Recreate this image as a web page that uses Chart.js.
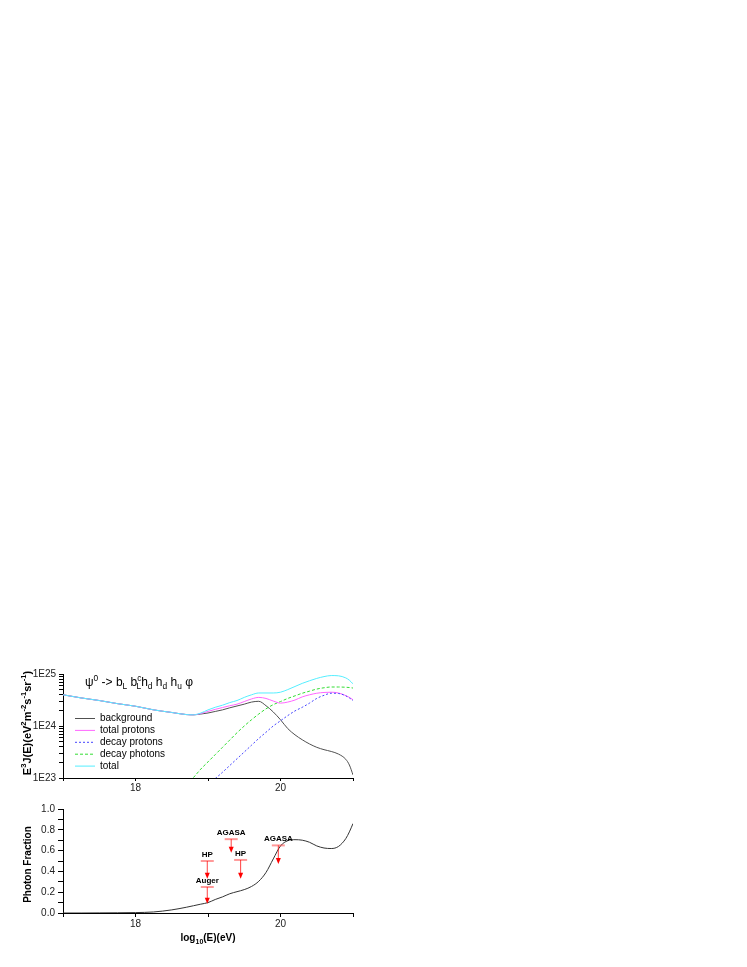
<!DOCTYPE html>
<html>
<head>
<meta charset="utf-8">
<script src="https://cdn.jsdelivr.net/npm/chart.js@4"></script>
<style>
  body { margin: 0; background: #fff; font-family: "Liberation Sans", Arial, sans-serif; }
  #wrap { position: relative; width: 747px; height: 967px; }
  canvas { position: absolute; left: 0; }
  .txt { position: absolute; white-space: nowrap; color: #000; }
  .rot { transform: rotate(-90deg); text-align: center; font-weight: bold; }
  sup, sub { font-size: 70%; line-height: 0; }
</style>
</head>
<body>
<div id="wrap">
  <canvas id="topChart" width="380" height="160" style="top:640px"></canvas>
  <canvas id="botChart" width="380" height="135" style="top:800px"></canvas>

  <div class="txt" style="left:85px;top:675px;font-size:12px">ψ<sup>0</sup> -&gt; b<sub>L</sub> b<sup>c</sup><sub style="margin-left:-5px">L</sub>h<sub>d</sub> h<sub>d</sub> h<sub>u</sub> φ</div>
  <div class="txt rot" style="left:-38px;top:717px;width:130px;font-size:11px">E<sup>3</sup>J(E)(eV<sup>2</sup>m<sup>-2</sup>s<sup>-1</sup>sr<sup>-1</sup>)</div>
  <div class="txt rot" style="left:-38px;top:859px;width:130px;font-size:10px">Photon Fraction</div>
  <div class="txt" style="left:158px;top:932px;width:100px;text-align:center;font-size:10px;font-weight:bold">log<sub>10</sub>(E)(eV)</div>
</div>

<script>
// energy grid, log10(E/eV)
const energy = [17.0, 17.25, 17.5, 17.75, 18.0, 18.25, 18.5, 18.7, 18.8, 18.9, 19.0, 19.1, 19.2, 19.3, 19.4, 19.5,
                19.6, 19.7, 19.8, 19.9, 20.0, 20.1, 20.2, 20.3, 20.4, 20.5, 20.6, 20.7, 20.8, 20.9, 20.95, 21.0];

// top panel: log10 of E^3 J(E) (null = not drawn)
const backgroundExp = [24.60, 24.54, 24.49, 24.43, 24.38, 24.31, 24.26, 24.22, 24.215, 24.23, 24.25, 24.28, 24.31, 24.35, 24.385, 24.42,
                       24.46, 24.475, 24.39, 24.27, 24.12, 23.95, 23.83, 23.735, 23.655, 23.59, 23.545, 23.51, 23.46, 23.36, 23.25, 23.06];
const totalProtonsExp = [24.60, 24.54, 24.49, 24.43, 24.38, 24.31, 24.26, 24.22, 24.215, 24.24, 24.28, 24.32, 24.355, 24.39, 24.42, 24.47,
                         24.52, 24.55, 24.53, 24.48, 24.44, 24.46, 24.50, 24.56, 24.60, 24.63, 24.645, 24.65, 24.635, 24.585, 24.55, 24.505];
const decayProtonsExp = [null, null, null, null, null, null, null, null, null, null, null, 22.99, 23.11, 23.24, 23.37, 23.50,
                         23.63, 23.76, 23.88, 24.00, 24.10, 24.20, 24.29, 24.36, 24.44, 24.53, 24.59, 24.63, 24.625, 24.58, 24.54, 24.49];
const decayPhotonsExp = [null, null, null, null, null, null, null, 22.87, 23.01, 23.17, 23.31, 23.45, 23.59, 23.73, 23.87, 24.00,
                         24.12, 24.23, 24.33, 24.41, 24.47, 24.53, 24.58, 24.63, 24.67, 24.71, 24.735, 24.75, 24.75, 24.745, 24.74, 24.73];
const totalExp = [24.60, 24.54, 24.49, 24.43, 24.38, 24.31, 24.26, 24.22, 24.215, 24.25, 24.31, 24.36, 24.40, 24.45, 24.49, 24.55,
                  24.60, 24.635, 24.635, 24.635, 24.65, 24.70, 24.76, 24.82, 24.87, 24.915, 24.95, 24.97, 24.965, 24.925, 24.88, 24.81];

// bottom panel: photon fraction
const photonFraction = [0.0, 0.0, 0.001, 0.002, 0.004, 0.01, 0.03, 0.055, 0.07, 0.085, 0.10, 0.13, 0.155, 0.185, 0.205, 0.225,
                        0.255, 0.305, 0.39, 0.52, 0.645, 0.695, 0.705, 0.70, 0.68, 0.645, 0.625, 0.62, 0.64, 0.715, 0.78, 0.86];

// experimental upper limits
const limitE = [18.99, 18.99, 19.32, 19.45, 19.97];
const limitVal = [0.50, 0.25, 0.71, 0.51, 0.65];
const limitTip = [0.33, 0.09, 0.58, 0.33, 0.47];
const limitLabel = ['HP', 'Auger', 'AGASA', 'HP', 'AGASA'];

const seriesNames = ['background', 'total protons', 'decay protons', 'decay photons', 'total'];

Chart.defaults.font.family = '"Liberation Sans", Arial, sans-serif';
Chart.defaults.font.size = 10;
Chart.defaults.color = '#222';

function pts(exps) {
  const out = [];
  exps.forEach((v, i) => { if (v !== null) out.push({x: energy[i], y: Math.pow(10, v)}); });
  return out;
}

function line(label, data, color, dash, order) {
  return {
    label: label, data: data, borderColor: color, borderWidth: 1, borderDash: dash || [],
    pointRadius: 0, cubicInterpolationMode: 'monotone', fill: false, order: order || 0
  };
}

const xAxis = (tick) => ({
  type: 'linear', min: 17, max: 21,
  afterFit(s) { s.height = 22; },
  border: {display: true, color: '#000', width: 1},
  grid: {drawOnChartArea: false, color: '#000', tickLength: tick},
  ticks: {stepSize: 1, autoSkip: false, maxRotation: 0, padding: 1,
          callback: v => (v % 2 === 0 ? String(v) : '')}
});

// legend drawn inside the top plot
const innerLegend = {
  id: 'innerLegend',
  afterDraw(chart) {
    const ctx = chart.ctx, a = chart.chartArea;
    ctx.save();
    ctx.font = '10px "Liberation Sans", Arial, sans-serif';
    ctx.textBaseline = 'middle';
    ctx.fillStyle = '#000';
    chart.data.datasets.forEach((ds, i) => {
      const yy = a.top + 44.5 + i * 11.9;
      ctx.strokeStyle = ds.borderColor;
      ctx.lineWidth = 1;
      ctx.setLineDash(ds.borderDash);
      ctx.beginPath();
      ctx.moveTo(a.left + 12, yy);
      ctx.lineTo(a.left + 32, yy);
      ctx.stroke();
      ctx.fillText(ds.label, a.left + 37, yy);
    });
    ctx.restore();
  }
};

new Chart(document.getElementById('topChart'), {
  type: 'line',
  data: {
    datasets: [
      line(seriesNames[0], pts(backgroundExp), '#505050', [], 5),
      line(seriesNames[1], pts(totalProtonsExp), '#ff66ff', [], 3),
      line(seriesNames[2], pts(decayProtonsExp), '#4444ff', [2, 2], 2),
      line(seriesNames[3], pts(decayPhotonsExp), '#33dd33', [3, 2], 4),
      line(seriesNames[4], pts(totalExp), '#55eeff', [], 1)
    ]
  },
  options: {
    responsive: false, animation: false,
    layout: {padding: {left: 0, right: 27, top: 34, bottom: 0}},
    plugins: {legend: {display: false}, tooltip: {enabled: false}},
    scales: {
      x: xAxis(3),
      y: {
        type: 'logarithmic', min: 1e23, max: 1e25,
        afterFit(s) { s.width = 63; },
        afterBuildTicks(s) {
          const t = [];
          for (let e = 23; e <= 24; e++) for (let m = 1; m < 10; m++) t.push({value: m * Math.pow(10, e)});
          t.push({value: 1e25});
          s.ticks = t;
        },
        border: {display: true, color: '#000', width: 1},
        grid: {drawOnChartArea: false, color: '#000', tickLength: 4},
        ticks: {autoSkip: false, padding: 3,
                callback: v => { const e = Math.log10(v); return Math.abs(e - Math.round(e)) < 1e-6 ? '1E' + Math.round(e) : ''; }}
      }
    }
  },
  plugins: [innerLegend]
});

const limits = {
  id: 'limits',
  afterDatasetsDraw(chart) {
    const ctx = chart.ctx, x = chart.scales.x, y = chart.scales.y;
    ctx.save();
    limitE.forEach((e, i) => {
      const px = x.getPixelForValue(e), py = y.getPixelForValue(limitVal[i]), pt = y.getPixelForValue(limitTip[i]);
      ctx.strokeStyle = 'rgba(255,70,70,0.55)';
      ctx.lineWidth = 2;
      ctx.beginPath(); ctx.moveTo(px - 6.5, py); ctx.lineTo(px + 6.5, py); ctx.stroke();
      ctx.strokeStyle = 'rgba(255,0,0,0.75)';
      ctx.lineWidth = 1;
      ctx.beginPath(); ctx.moveTo(px, py); ctx.lineTo(px, pt - 5); ctx.stroke();
      ctx.fillStyle = '#ff0000';
      ctx.beginPath(); ctx.moveTo(px - 2.5, pt - 6); ctx.lineTo(px + 2.5, pt - 6); ctx.lineTo(px, pt); ctx.closePath(); ctx.fill();
      ctx.fillStyle = '#000';
      ctx.font = 'bold 8px "Liberation Sans", Arial, sans-serif';
      ctx.textAlign = 'center';
      ctx.fillText(limitLabel[i], px, py - 4);
    });
    ctx.restore();
  }
};

new Chart(document.getElementById('botChart'), {
  type: 'line',
  data: {
    datasets: [line('photon fraction', energy.map((e, i) => ({x: e, y: photonFraction[i]})), '#333333')]
  },
  options: {
    responsive: false, animation: false,
    layout: {padding: {left: 0, right: 27, top: 8, bottom: 0}},
    plugins: {legend: {display: false}, tooltip: {enabled: false}},
    scales: {
      x: xAxis(4),
      y: {
        type: 'linear', min: 0, max: 1,
        afterFit(s) { s.width = 63; },
        border: {display: true, color: '#000', width: 1},
        grid: {drawOnChartArea: false, color: '#000', tickLength: 5},
        ticks: {stepSize: 0.1, autoSkip: false, padding: 3,
                callback: v => (Math.round(v * 10) % 2 === 0 ? v.toFixed(1) : '')}
      }
    }
  },
  plugins: [limits]
});
</script>
</body>
</html>
